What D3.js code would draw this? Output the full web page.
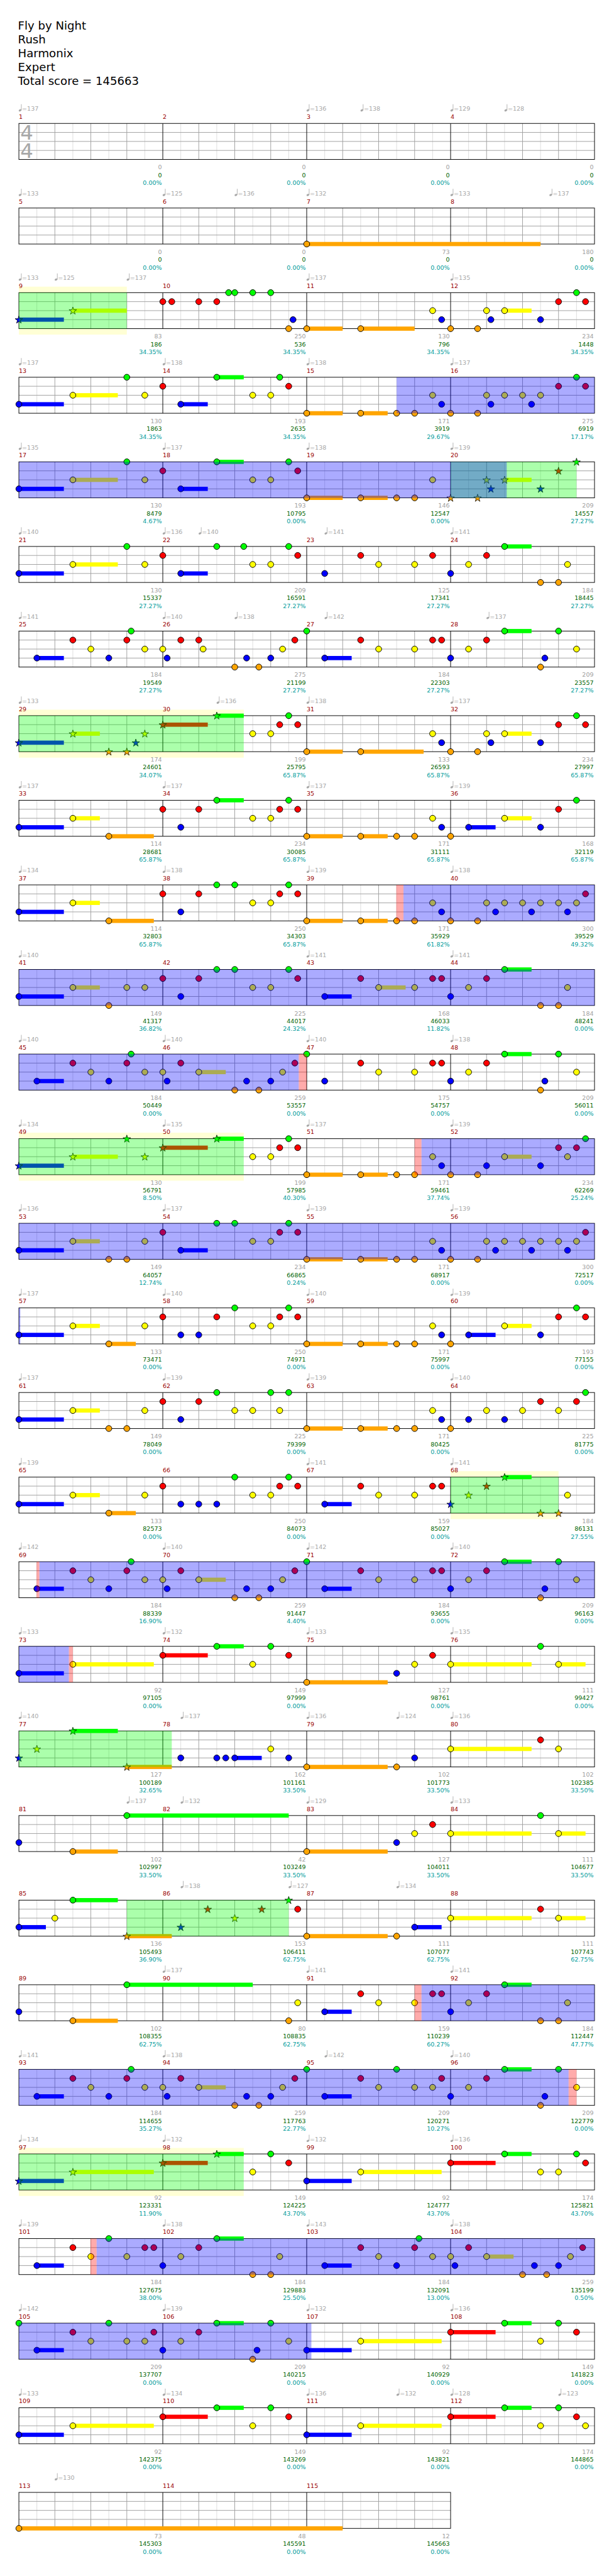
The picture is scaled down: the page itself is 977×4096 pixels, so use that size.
<!DOCTYPE html>
<html><head><meta charset="utf-8">
<script src="https://cdn.jsdelivr.net/npm/d3@7"></script>
<style>body{margin:0;background:#fff}svg{display:block}text{font-family:"DejaVu Sans",sans-serif}</style>
</head><body><svg id="c" width="977" height="4096"></svg>
<script>
const titleLines = ["Fly by Night","Rush","Harmonix","Expert","Total score = 145663"];
const measureCount = 115;
const timeSignature = [4,4];
const laneColors = ["#00ff00","#ff0000","#ffff00","#0000ff","#ffa500"];

const counts = [0,0,0,0, 0,0,73,180, 83,250,130,234, 130,193,171,275, 130,193,146,209, 130,209,125,184,
 184,275,184,209, 174,199,133,234, 114,234,171,168, 114,250,171,300, 149,225,168,184, 184,259,175,209,
 130,199,171,234, 149,234,171,300, 133,250,171,193, 149,225,171,225, 133,250,159,184, 184,259,184,209,
 92,149,127,111, 127,162,102,102, 102,42,127,111, 136,153,111,111, 102,80,159,184, 184,259,209,209,
 92,149,92,174, 184,184,184,259, 209,209,92,149, 92,149,92,174, 73,48,12];
const scores = [0,0,0,0, 0,0,0,0, 186,536,796,1448, 1863,2635,3919,6919, 8479,10795,12547,14557,
 15337,16591,17341,18445, 19549,21199,22303,23557, 24601,25795,26593,27997, 28681,30085,31111,32119,
 32803,34303,35929,39529, 41317,44017,46033,48241, 50449,53557,54757,56011, 56791,57985,59461,62269,
 64057,66865,68917,72517, 73471,74971,75997,77155, 78049,79399,80425,81775, 82573,84073,85027,86131,
 88339,91447,93655,96163, 97105,97999,98761,99427, 100189,101161,101773,102385, 102997,103249,104011,104677,
 105493,106411,107077,107743, 108355,108835,110239,112447, 114655,117763,120271,122779,
 123331,124225,124777,125821, 127675,129883,132091,135199, 137707,140215,140929,141823,
 142375,143269,143821,144865, 145303,145591,145663];
const percents = [0,0,0,0, 0,0,0,0, 34.35,34.35,34.35,34.35, 34.35,34.35,29.67,17.17, 4.67,0,0,27.27,
 27.27,27.27,27.27,27.27, 27.27,27.27,27.27,27.27, 34.07,65.87,65.87,65.87, 65.87,65.87,65.87,65.87,
 65.87,65.87,61.82,49.32, 36.82,24.32,11.82,0, 0,0,0,0, 8.50,40.30,37.74,25.24, 12.74,0.24,0,0,
 0,0,0,0, 0,0,0,0, 0,0,0,27.55, 16.90,4.40,0,0, 0,0,0,0, 32.65,33.50,33.50,33.50,
 33.50,33.50,33.50,33.50, 36.90,62.75,62.75,62.75, 62.75,62.75,60.27,47.77, 35.27,22.77,10.27,0,
 11.90,43.70,43.70,43.70, 38.00,25.50,13.00,0.50, 0,0,0,0, 0,0,0,0, 0,0,0];

// [measure, beat, bpm]
const tempos = [[1,0,137],[3,0,136],[3,1.5,138],[4,0,129],[4,1.5,128],
 [5,0,133],[6,0,125],[6,2,136],[7,0,132],[8,0,133],[8,2.75,137],
 [9,0,133],[9,1,125],[9,3,137],[11,0,137],[12,0,135],
 [13,0,137],[14,0,138],[15,0,138],[16,0,137],
 [17,0,135],[18,0,137],[19,0,138],[20,0,139],
 [21,0,140],[22,0,136],[22,1,140],[23,0.5,141],[24,0,141],
 [25,0,141],[26,0,140],[26,2,138],[27,0.5,142],[28,1,137],
 [29,0,133],[30,1.5,136],[31,0,138],[32,0,137],
 [33,0,137],[34,0,137],[35,0,137],[36,0,139],
 [37,0,134],[38,0,138],[39,0,139],[40,0,138],
 [41,0,140],[43,0,141],[44,0,141],
 [45,0,140],[46,0,140],[47,0,140],[48,0,138],
 [49,0,134],[50,0,135],[51,0,137],[52,0,139],
 [53,0,136],[54,0,137],[55,0,139],[56,0,139],
 [57,0,137],[58,0,140],[59,0,140],[60,0,139],
 [61,0,137],[62,0,139],[63,0,139],[64,0,140],
 [65,0,139],[67,0,141],[68,0,141],
 [69,0,142],[70,0,140],[71,0,142],[72,0,140],
 [73,0,133],[74,0,132],[75,0,133],[76,0,135],
 [77,0,140],[78,0.5,137],[79,0,136],[79,2.5,124],[80,0,136],
 [81,3,137],[82,0.5,132],[83,0,129],[84,0,133],
 [86,0.5,138],[86,3.5,127],[87,2.5,134],
 [90,0,137],[91,0,141],[92,0,141],
 [93,0,141],[94,0,138],[95,0.5,142],[96,0,140],
 [97,0,134],[98,0,132],[99,0,132],[100,0,136],
 [101,0,139],[102,0,138],[103,0,143],[104,0,138],
 [105,0,142],[106,0,139],[107,0,132],[108,0,136],
 [109,0,133],[110,0,134],[111,0,136],[111,2.5,132],[112,0,128],[112,3,123],
 [113,1,130]];

// [measure, beat, lane(0=G..4=O), sustain beats]
const notes = [
 [7,0,4,6.5],
 [9,0,3,1.25],[9,1.5,2,1.5],
 [10,0,1],[10,0.25,1],[10,1,1],[10,1.5,1],[10,1.83,0],[10,2,0],[10,2.5,0],[10,3,0],[10,3.5,4],[10,3.62,3],
 [11,0,4,1],[11,1.5,4,1.5],[11,3.5,2],[11,3.75,3],
 [12,0,4],[12,0.75,4],[12,1,2],[12,1.12,3],[12,1.5,2,0.75],[12,2.5,3],[12,3,1],[12,3.5,0],[12,3.75,1],
 [13,0,3,1.25],[13,1.5,2,1.25],[13,3,0],[13,3.5,2],
 [14,0,1],[14,0.5,3,0.75],[14,1.5,0,0.75],[14,2.5,2],[14,3,2],[14,3.25,0],[14,3.5,1],
 [15,0,4,1],[15,1.5,4,0.75],[15,2.5,4],[15,3,4],[15,3.5,2],[15,3.75,3],
 [16,0,4],[16,0.75,4],[16,1,2],[16,1.12,3],[16,1.5,2],[16,2,2],[16,2.25,3],[16,2.5,2],[16,3,1],[16,3.5,0],[16,3.75,1],
 [17,0,3,1.25],[17,1.5,2,1.25],[17,3,0],[17,3.5,2],
 [18,0,1],[18,0.5,3,0.75],[18,1.5,0,0.75],[18,2.5,2],[18,3,2],[18,3.5,0],[18,3.75,1],
 [19,0,4,1],[19,1.5,4,0.75],[19,2.5,4],[19,3,4],[19,3.5,2],
 [20,0,4],[20,0.75,4],[20,1,2],[20,1.12,3],[20,1.5,2,0.75],[20,2.5,3],[20,3,1],[20,3.5,0],
 [21,0,3,1.25],[21,1.5,2,1.25],[21,3,0],[21,3.5,2],
 [22,0,1],[22,0.5,3,0.75],[22,1.5,0],[22,2.25,0],[22,2.5,2],[22,3,2],[22,3.5,0],[22,3.75,1],
 [23,0.5,3],[23,1.5,1],[23,2,2],[23,3,2],[23,3.5,1],
 [24,0,3],[24,0.5,2],[24,1,1],[24,1.5,0,0.75],[24,2.5,4],[24,3,4],[24,3.25,2],
 [25,0.5,3,0.75],[25,1.5,1],[25,2,2],[25,2.5,3],[25,3,1],[25,3.12,0],[25,3.5,2],
 [26,0,2],[26,0.12,3],[26,0.5,1],[26,1,1],[26,1.12,2],[26,2,4],[26,2.33,3],[26,2.67,4],[26,3,3],[26,3.33,2],[26,3.67,1],
 [27,0,0],[27,0.5,3,0.75],[27,1.5,1],[27,2,2],[27,3,2],[27,3.5,1],[27,3.75,1],
 [28,0,3],[28,0.5,2],[28,1,1],[28,1.5,0,0.75],[28,2.5,4],[28,2.62,3],[28,3,0],[28,3.5,2],
 [29,0,3,1.25],[29,1.5,2,0.75],[29,2.5,4],[29,3,4],[29,3.25,3],[29,3.5,2],
 [30,0,1,1.25],[30,1.5,0,0.75],[30,2.5,2],[30,3,2],[30,3.25,1],[30,3.5,0],[30,3.75,1],
 [31,0,4,1],[31,1.5,4,1.75],[31,3.5,2],[31,3.75,3],
 [32,0,4],[32,0.75,4],[32,1,2],[32,1.12,3],[32,1.5,2,0.75],[32,2.5,3],[32,3,1],[32,3.5,0],[32,3.75,1],
 [33,0,3,1.25],[33,1.5,2,0.75],[33,2.5,4,1.25],
 [34,0,1],[34,0.5,3],[34,1,1],[34,1.5,0,0.75],[34,2.5,2],[34,3,2],[34,3.25,1],[34,3.5,0],[34,3.75,1],
 [35,0,4,1],[35,1.5,4,0.75],[35,2.5,4],[35,3,4],[35,3.5,2],[35,3.75,3],
 [36,0,4],[36,0.5,3,0.75],[36,1.5,2,0.75],[36,2.5,3],[36,3,1],[36,3.5,0],
 [37,0,3,1.25],[37,1.5,2,0.75],[37,2.5,4,1.25],
 [38,0,1],[38,0.5,3],[38,1,1],[38,1.5,0],[38,2,0],[38,2.5,2],[38,3,2],[38,3.25,1],[38,3.5,0],[38,3.75,1],
 [39,0,4,1],[39,1.5,4,0.75],[39,2.5,4],[39,3,4],[39,3.5,2],[39,3.75,3],
 [40,0,4],[40,0.75,4],[40,1,2],[40,1.25,3],[40,1.5,2],[40,2,2],[40,2.25,3],[40,2.5,2],[40,3,2],[40,3.25,3],[40,3.5,2],[40,3.75,1],
 [41,0,3,1.25],[41,1.5,2,0.75],[41,2.5,4],[41,3,2],[41,3.5,2],
 [42,0,1],[42,0.5,3],[42,1,1],[42,1.5,0],[42,2,0],[42,2.5,2],[42,3,2],[42,3.5,0],[42,3.75,1],
 [43,0.5,3,0.75],[43,1.5,1],[43,2,2,0.75],[43,3,2],[43,3.5,1],[43,3.75,1],
 [44,0,3],[44,0.5,2],[44,1,1],[44,1.5,0,0.75],[44,2.5,4],[44,3,4],[44,3.25,2],
 [45,0.5,3,0.75],[45,1.5,1],[45,2,2],[45,2.5,3],[45,3,1],[45,3.12,0],[45,3.5,2],
 [46,0,2],[46,0.12,3],[46,0.5,1],[46,1,2,0.75],[46,2,4],[46,2.33,3],[46,2.67,4],[46,3,3],[46,3.33,2],[46,3.67,1],
 [47,0,0],[47,0.5,3],[47,1.5,1],[47,2,2],[47,3,2],[47,3.5,1],[47,3.75,1],
 [48,0,3],[48,0.5,2],[48,1,1],[48,1.5,0,0.75],[48,2.5,4],[48,2.62,3],[48,3,0],[48,3.5,2],
 [49,0,3,1.25],[49,1.5,2,1.25],[49,3,0],[49,3.5,2],
 [50,0,1,1.25],[50,1.5,0,0.75],[50,2.5,2],[50,3,2],[50,3.25,1],[50,3.5,0],[50,3.75,1],
 [51,0,4,1],[51,1.5,4,0.75],[51,2.5,4],[51,3,4],[51,3.5,2],[51,3.75,3],
 [52,0,4],[52,0.75,4],[52,1,3],[52,1.5,2,0.75],[52,2.5,3],[52,3,1],[52,3.25,2],[52,3.5,1],[52,3.75,0],
 [53,0,3,1.25],[53,1.5,2,0.75],[53,2.5,4],[53,3,4],[53,3.5,2],
 [54,0,1],[54,0.5,3,0.75],[54,1.5,0],[54,2,0],[54,2.5,2],[54,3,2],[54,3.25,1],[54,3.5,0],[54,3.75,1],
 [55,0,4,1],[55,1.5,4,0.75],[55,2.5,4],[55,3,4],[55,3.5,2],[55,3.75,3],
 [56,0,4],[56,0.75,4],[56,1,2],[56,1.25,3],[56,1.5,2],[56,2,2],[56,2.25,3],[56,2.5,2],[56,3,2],[56,3.25,3],[56,3.5,2],[56,3.75,1],
 [57,0,3,1.25],[57,1.5,2,0.75],[57,2.5,4,0.75],[57,3.5,2],
 [58,0,1],[58,0.5,3],[58,1,3],[58,1.5,1],[58,2,0],[58,2.5,2],[58,3,2],[58,3.25,1],[58,3.5,0],[58,3.75,1],
 [59,0,4,1],[59,1.5,4,0.75],[59,2.5,4],[59,3,4],[59,3.5,2],[59,3.75,3],
 [60,0,4],[60,0.5,3,0.75],[60,1.5,2,0.75],[60,2.5,3],[60,3,1],[60,3.5,0],[60,3.75,1],
 [61,0,3,1.25],[61,1.5,2,0.75],[61,2.5,4],[61,3,4],[61,3.5,2],
 [62,0,1],[62,0.5,3],[62,1,1],[62,1.5,0],[62,2,2],[62,2.5,2],[62,3,0],[62,3.25,2],[62,3.5,0],
 [63,0,4,1],[63,1.5,4,0.75],[63,2.5,4],[63,3,4],[63,3.5,2],[63,3.75,3],
 [64,0,4],[64,0.5,3],[64,1,2],[64,1.5,3],[64,2,2],[64,2.5,1],[64,3,2],[64,3.5,1],[64,3.75,0],
 [65,0,3,1.25],[65,1.5,2,0.75],[65,2.5,4,0.75],[65,3.5,2],
 [66,0,1],[66,0.5,3],[66,1,3],[66,1.5,3],[66,2,0],[66,2.5,2],[66,3,2],[66,3.25,1],[66,3.5,0],[66,3.75,1],
 [67,0.5,3,0.75],[67,1.5,1],[67,2,2],[67,3,2],[67,3.5,1],[67,3.75,1],
 [68,0,3],[68,0.5,2],[68,1,1],[68,1.5,0,0.75],[68,2.5,4],[68,3,4],[68,3.25,2],
 [69,0.5,3,0.75],[69,1.5,1],[69,2,2],[69,2.5,3],[69,3,1],[69,3.12,0],[69,3.5,2],
 [70,0,2],[70,0.12,3],[70,0.5,1],[70,1,2,0.75],[70,2,4],[70,2.33,3],[70,2.67,4],[70,3,3],[70,3.33,2],[70,3.67,1],
 [71,0,0],[71,0.5,3,0.75],[71,1.5,1],[71,2,2],[71,3,2],[71,3.5,1],[71,3.75,1],
 [72,0,3],[72,0.5,2],[72,1,1],[72,1.5,0,0.75],[72,2.5,4],[72,2.62,3],[72,3,0],[72,3.5,2],
 [73,0,3,1.25],[73,1.5,2,2.25],
 [74,0,1,1.25],[74,1.5,0,0.75],[74,2.5,2],[74,3,0],[74,3.5,1],
 [75,0,4,2.25],[75,2.5,3],[75,3,2],[75,3.5,1],
 [76,0,2,2.25],[76,2.5,0],[76,3,2,0.75],
 [77,0,3],[77,0.5,2],[77,1.5,0,1.25],[77,3,4,1.25],
 [78,0.5,3],[78,1.5,3],[78,1.75,3],[78,2,3,0.75],[78,3,2],[78,3.5,3],
 [79,0,4,2.25],[79,2.5,4],[79,3,3],
 [80,0,2,2.25],[80,2.5,1],[80,3,2],
 [81,0,3],[81,1.5,4,1.25],[81,3,0,4.5],
 [83,0,4,2.25],[83,2.5,3],[83,3,2],[83,3.5,1],
 [84,0,2,2.25],[84,2.5,0],[84,3,2,0.75],
 [85,0,3,0.75],[85,1,2],[85,1.5,0,1.25],[85,3,4,1.25],
 [86,0.5,3],[86,1.25,1],[86,2,2],[86,2.75,1],[86,3.5,0],[86,3.75,1],
 [87,0,4,2.25],[87,2.5,4],[87,3,3,0.75],
 [88,0,2,2.25],[88,2.5,1],[88,3,2,0.75],
 [89,0,3],[89,1.5,4,1.25],[89,3,0,3.5],
 [90,3.5,4],[90,3.75,2],
 [91,0.5,3,0.75],[91,1.5,1],[91,2,2],[91,3,2],[91,3.5,1],[91,3.75,1],
 [92,0,3],[92,0.5,2],[92,1,1],[92,1.5,0,0.75],[92,2.5,4],[92,3,4],[92,3.25,2],
 [93,0.5,3,0.75],[93,1.5,1],[93,2,2],[93,2.5,3],[93,3,1],[93,3.12,0],[93,3.5,2],
 [94,0,2],[94,0.12,3],[94,0.5,1],[94,1,2,0.75],[94,2,4],[94,2.33,3],[94,2.67,4],[94,3,3],[94,3.33,2],[94,3.67,1],
 [95,0,0],[95,0.5,3,0.75],[95,1.5,1],[95,2,2],[95,2.5,0],[95,3,2],[95,3.5,2],[95,3.75,1],
 [96,0,3],[96,0.5,2],[96,1,1],[96,1.5,0,0.75],[96,2.5,4],[96,2.62,3],[96,3,0],[96,3.5,2],
 [97,0,3,1.25],[97,1.5,2,2.25],
 [98,0,1,1.25],[98,1.5,0,0.75],[98,2.5,2],[98,3,0],[98,3.5,1],
 [99,0,3,1.25],[99,1.5,2,2.25],
 [100,0,1,1.25],[100,1.5,0,0.75],[100,2.5,2],[100,3,2],[100,3.5,0],[100,3.75,1],
 [101,0.5,3,0.75],[101,1.5,1],[101,2,2],[101,2.5,0],[101,3,2],[101,3.5,1],[101,3.75,1],
 [102,0,3],[102,0.5,2],[102,1,1],[102,1.5,0,0.75],[102,2.5,4],[102,3,4],[102,3.25,2],
 [103,0.5,3,0.75],[103,1.5,1],[103,2,2],[103,2.5,3],[103,3,1],[103,3.12,0],[103,3.5,2],
 [104,0,2],[104,0.12,3],[104,0.5,1],[104,1,2,0.75],[104,2,4],[104,2.33,3],[104,2.67,4],[104,3,3],[104,3.33,2],[104,3.67,1],
 [105,0,0],[105,0.5,3,0.75],[105,1.5,1],[105,2,2],[105,2.5,0],[105,3,2],[105,3.5,2],[105,3.75,1],
 [106,0,3],[106,0.5,2],[106,1,1],[106,1.5,0,0.75],[106,2.5,4],[106,2.62,3],[106,3,0],[106,3.5,2],
 [107,0,3,1.25],[107,1.5,2,2.25],
 [108,0,1,1.25],[108,1.5,0,0.75],[108,2.5,2],[108,3,0],[108,3.5,1],
 [109,0,3,1.25],[109,1.5,2,2.25],
 [110,0,1,1.25],[110,1.5,0,0.75],[110,2.5,2],[110,3,0],[110,3.5,1],
 [111,0,3,1.25],[111,1.5,2,2.25],
 [112,0,1,1.25],[112,1.5,0,0.75],[112,2.5,2],[112,3,0],[112,3.5,1],[112,3.75,2],
 [113,0,4,9]
];

// overdrive phrases [startM, startBeat, endM, endBeat, yellowBand]
const phrases = [[9,0,9,3,1],[20,0,20,3.5,0],[29,0,30,2.25,1],[49,0,50,2.25,1],[68,0,68,3,1],
 [77,0,78,0.25,0],[85,3,86,3.5,0],[97,0,98,2.25,1]];
// overdrive activations [startM, startBeat, endM, endBeat]
const activations = [[15,2.5,20,1.56],[39,2.69,46,3.78],[51,3.19,57,0.04],[69,0.57,73,1.39],
 [91,3.19,96,3.28],[101,2.16,107,0.13]];
const activationEdges = [[39,2.49,39,2.69],[46,3.78,47,0],[51,3,51,3.19],[69,0.49,69,0.57],
 [73,1.39,73,1.5],[91,3,91,3.19],[96,3.28,96,3.5],[101,1.99,101,2.16]];

// ---------- drawing ----------
const S = 977/1024;
const svg = d3.select("#c");
const root = svg.append("g").attr("transform", `scale(${S})`);
const ROWS = Math.ceil(measureCount/4);
const rowTop = d3.scaleLinear().domain([0, ROWS-1]).range([205.7, 205.7 + (ROWS-1)*141]);
const xb = d3.scaleLinear().domain([0,16]).range([31.5, 991.5]);
const yl = d3.scaleLinear().domain([0,4]).range([0,60]);
const L = {};
["band","bg","grid","sus","note","ovl","txt"].forEach(k => L[k] = root.append("g"));
const gb = (m,b) => (m-1)*4 + b;
function segs(g0, g1){
  const out=[]; let s=g0;
  while (s < g1 - 1e-9){
    const r = Math.floor(s/16 + 1e-9);
    const e = Math.min(g1, (r+1)*16);
    out.push({r, a:s-r*16, b:e-r*16}); s = e;
  }
  return out;
}

root.append("g").selectAll("text").data(titleLines).join("text")
  .attr("x",30).attr("y",(d,i)=>49+23*i).style("font-size","19px").attr("fill","#000").text(d=>d);

for (let r=0;r<ROWS;r++){
  const T = rowTop(r), nm = Math.min(4, measureCount-4*r), nb = nm*4;
  L.bg.append("rect").attr("x",xb(0)).attr("y",T).attr("width",xb(nb)-xb(0)).attr("height",60).attr("fill","#fff");
  const gr = L.grid.append("g");
  gr.selectAll(null).data(d3.range(0.5,nb,1)).join("line")
    .attr("x1",d=>xb(d)).attr("x2",d=>xb(d)).attr("y1",T).attr("y2",T+60).attr("stroke","#dcdcdc");
  gr.selectAll(null).data(d3.range(1,nb).filter(b=>b%4)).join("line")
    .attr("x1",d=>xb(d)).attr("x2",d=>xb(d)).attr("y1",T).attr("y2",T+60).attr("stroke","#a0a0a0");
  gr.selectAll(null).data([1,2,3]).join("line")
    .attr("x1",xb(0)).attr("x2",xb(nb)).attr("y1",d=>T+yl(d)).attr("y2",d=>T+yl(d)).attr("stroke","#a0a0a0");
  gr.selectAll(null).data(d3.range(4,nb,4)).join("line")
    .attr("x1",d=>xb(d)).attr("x2",d=>xb(d)).attr("y1",T).attr("y2",T+60).attr("stroke","#000");
  gr.append("rect").attr("x",xb(0)).attr("y",T).attr("width",xb(nb)-xb(0)).attr("height",60)
    .attr("fill","none").attr("stroke","#000");
}

// time signature on the first measure: one vertical run of upright digits
(function(){
  const T0 = rowTop(0), base1 = T0 + 27.5, gap = 30;
  const t = L.grid.append("text").attr("fill","#a8a8a8").style("font-size","34px")
    .style("writing-mode","vertical-lr").style("text-orientation","upright")
    .attr("x", xb(0) + 13).attr("y", T0).text(timeSignature.join(""));
  const n = t.node();
  let ok = false;
  try {
    const p0 = n.getStartPositionOfChar(0), p1 = n.getStartPositionOfChar(1);
    const adv = p1.y - p0.y;
    const e0 = n.getExtentOfChar(0);
    if (adv > 5 && Math.abs(p1.x - p0.x) < 1) {
      const baseOff = (e0.y - T0) + e0.height * (0.928/1.164);
      t.attr("y", base1 - baseOff).style("letter-spacing", (gap - adv) + "px");
      ok = true;
    }
  } catch (e) {}
  if (!ok) {
    t.remove();
    L.grid.append("text").attr("fill","#a8a8a8").style("font-size","30px")
      .attr("x", xb(0) + 3.5).attr("y", base1).text(timeSignature.join("/"));
  }
})();

// yellow bands and green phrase overlays
phrases.forEach(p=>{
  segs(gb(p[0],p[1]), gb(p[2],p[3])).forEach(s=>{
    const T=rowTop(s.r);
    if (p[4]) L.band.append("rect").attr("x",xb(s.a)).attr("y",T-10).attr("width",xb(s.b)-xb(s.a)).attr("height",80).attr("fill","#ffffd5");
    L.ovl.append("rect").attr("x",xb(s.a)).attr("y",T).attr("width",xb(s.b)-xb(s.a)).attr("height",60).attr("fill","rgba(0,255,0,0.33)");
  });
});
activations.forEach(p=>{
  segs(gb(p[0],p[1]), gb(p[2],p[3])).forEach(s=>{
    const T=rowTop(s.r);
    L.ovl.append("rect").attr("x",xb(s.a)).attr("y",T).attr("width",xb(s.b)-xb(s.a)).attr("height",60).attr("fill","rgba(0,0,255,0.33)");
  });
});
activationEdges.forEach(p=>{
  segs(gb(p[0],p[1]), gb(p[2],p[3])).forEach(s=>{
    const T=rowTop(s.r);
    L.ovl.append("rect").attr("x",xb(s.a)).attr("y",T).attr("width",xb(s.b)-xb(s.a)).attr("height",60).attr("fill","rgba(255,0,0,0.33)");
  });
});

// notes
const isStar = gp => phrases.some(p => gp >= gb(p[0],p[1])-1e-6 && gp <= gb(p[2],p[3])+1e-6);
const star = d3.symbol().type(d3.symbolStar).size(50);
notes.forEach(n=>{
  const gp = gb(n[0],n[1]);
  const r = Math.floor(gp/16+1e-9), loc = gp - r*16, T = rowTop(r);
  const col = laneColors[n[2]], y = T + yl(n[2]);
  if (n[3]) {
    segs(gp, gp+n[3]).forEach(s=>{
      const TT=rowTop(s.r);
      L.sus.append("rect").attr("x",xb(s.a)).attr("y",TT+yl(n[2])-3.5).attr("width",xb(s.b)-xb(s.a)).attr("height",7).attr("fill",col);
    });
  }
  if (isStar(gp)) {
    L.note.append("path").attr("d",star()).attr("transform",`translate(${xb(loc)},${y+0.5})`)
      .attr("fill",col).attr("stroke","#000").attr("stroke-width",0.8);
  } else {
    L.note.append("circle").attr("cx",xb(loc)).attr("cy",y).attr("r",5)
      .attr("fill",col).attr("stroke","#000").attr("stroke-width",1);
  }
});

// measure numbers and stats
d3.range(measureCount).forEach(i=>{
  const r=Math.floor(i/4), c=i%4, T=rowTop(r);
  const xs=xb(c*4), xe=xb(c*4+4)-1.5;
  L.txt.append("text").attr("x",xs).attr("y",T-7.6).attr("fill","#990000").style("font-size","10px").text(i+1);
  L.txt.append("text").attr("x",xe).attr("y",T+76.5).attr("text-anchor","end").attr("fill","#a0a0a0").style("font-size","10px").text(counts[i]);
  L.txt.append("text").attr("x",xe).attr("y",T+89.5).attr("text-anchor","end").attr("fill","#006400").style("font-size","10px").text(scores[i]);
  L.txt.append("text").attr("x",xe).attr("y",T+102.5).attr("text-anchor","end").attr("fill","#009c9c").style("font-size","10px").text(percents[i].toFixed(2)+"%");
});

// tempo markers
tempos.forEach(t=>{
  const gp=gb(t[0],t[1]); const r=Math.floor(gp/16+1e-9), loc=gp-r*16, T=rowTop(r), x=xb(loc);
  const g=L.txt.append("g").attr("fill","#a8a8a8");
  g.append("ellipse").attr("cx",x+2).attr("cy",T-21.8).attr("rx",2.4).attr("ry",1.7).attr("transform",`rotate(-25 ${x+2} ${T-21.8})`);
  g.append("line").attr("x1",x+4.1).attr("x2",x+4.1).attr("y1",T-22).attr("y2",T-32).attr("stroke","#a8a8a8").attr("stroke-width",0.9);
  g.append("text").attr("x",x+5.3).attr("y",T-20.8).style("font-size","10px").text("="+t[2]);
});
</script></body></html>
